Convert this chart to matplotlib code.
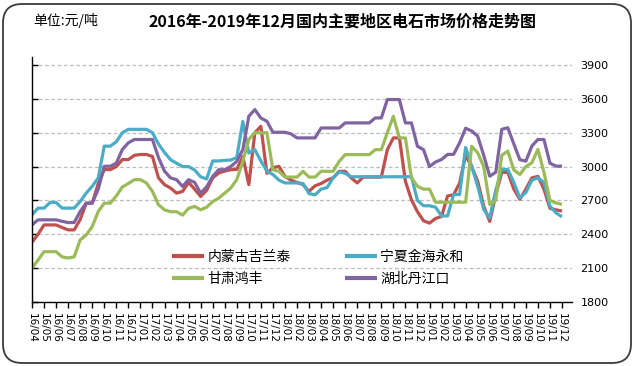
import numpy as np
import matplotlib
matplotlib.use("Agg")
import matplotlib.pyplot as plt
from matplotlib.patches import FancyBboxPatch
from matplotlib.transforms import ScaledTranslation

plt.rcParams['font.family'] = ['Noto Sans CJK SC', 'DejaVu Sans']

title = "2016年-2019年12月国内主要地区电石市场价格走势图"
unit_label = "单位:元/吨"

month_labels = [
    "16/04", "16/05", "16/06", "16/07", "16/08", "16/09", "16/10", "16/11", "16/12",
    "17/01", "17/02", "17/03", "17/04", "17/05", "17/06", "17/07", "17/08", "17/09",
    "17/10", "17/11", "17/12", "18/01", "18/02", "18/03", "18/04", "18/05", "18/06",
    "18/07", "18/08", "18/09", "18/10", "18/11", "18/12", "19/01", "19/02", "19/03",
    "19/04", "19/05", "19/06", "19/07", "19/08", "19/09", "19/10", "19/11", "19/12",
]

series_names = ["内蒙古吉兰泰", "宁夏金海永和", "甘肃鸿丰", "湖北丹江口"]

# half-monthly readings, starting 2016/04
neimenggu = [
    2330, 2400, 2483, 2483, 2483, 2460, 2439, 2439, 2530, 2676,
    2676, 2850, 2973, 2973, 3000, 3062, 3062, 3100, 3107, 3107,
    3090, 2900, 2840, 2810, 2765, 2780, 2860, 2800, 2735, 2790,
    2900, 2943, 2960, 2972, 2975, 3090, 2840, 3300, 3357, 2940,
    2990, 3002, 2913, 2880, 2860, 2840, 2780, 2830, 2850, 2880,
    2900, 2958, 2958, 2900, 2855, 2907, 2907, 2907, 2907, 3150,
    3254, 3254, 2870, 2706, 2600, 2520, 2499, 2540, 2558, 2740,
    2750, 2854, 3100, 3000, 2870, 2650, 2514, 2750, 2949, 2949,
    2800, 2710, 2800, 2900, 2913, 2800, 2630, 2617, 2606,
]
ningxia = [
    2572, 2632, 2632, 2682, 2682, 2632, 2632, 2632, 2690, 2765,
    2825, 2900, 3181, 3181, 3220, 3300, 3330, 3330, 3330, 3330,
    3300, 3200, 3125, 3061, 3030, 3000, 3000, 2970, 2910, 2890,
    3050, 3050, 3055, 3058, 3080, 3400, 3120, 3150, 3050, 2960,
    2930, 2880, 2855, 2855, 2855, 2850, 2760, 2750, 2800, 2814,
    2900, 2953, 2940, 2910, 2910, 2910, 2910, 2910, 2910, 2910,
    2910, 2910, 2910, 2910, 2700, 2653, 2653, 2640, 2563, 2563,
    2752, 2752, 3170, 3004, 2826, 2620, 2545, 2790, 2974, 2974,
    2860, 2723, 2770, 2880, 2900, 2860, 2650, 2590, 2555,
]
gansu = [
    2100, 2171, 2246, 2246, 2246, 2200, 2190, 2200, 2350, 2394,
    2468, 2602, 2676, 2676, 2740, 2819, 2850, 2884, 2884, 2855,
    2780, 2662, 2617, 2600, 2600, 2570, 2630, 2647, 2617, 2640,
    2690, 2720, 2765, 2810, 2884, 3046, 3240, 3300, 3300, 3300,
    2972, 2958, 2907, 2907, 2907, 2958, 2907, 2907, 2958, 2958,
    2958, 3046, 3106, 3106, 3106, 3106, 3106, 3150, 3150, 3300,
    3446, 3254, 3254, 2900, 2825, 2800, 2800, 2684, 2684, 2684,
    2684, 2684, 2684, 3180, 3122, 3000, 2664, 2700, 3100, 3137,
    2970, 2930, 3000, 3034, 3152, 2950, 2700, 2678, 2665,
]
hubei = [
    2483, 2528, 2528, 2528, 2528, 2515, 2504, 2504, 2602, 2676,
    2676, 2800, 3003, 3003, 3030, 3151, 3211, 3240, 3240, 3240,
    3240, 3080, 2960, 2900, 2884, 2824, 2884, 2860, 2765, 2820,
    2913, 2972, 2972, 3000, 3046, 3150, 3446, 3505, 3430, 3402,
    3304, 3304, 3304, 3290, 3254, 3254, 3254, 3254, 3342, 3342,
    3342, 3342, 3387, 3387, 3387, 3387, 3387, 3431, 3431, 3594,
    3594, 3594, 3387, 3387, 3180, 3150, 3000, 3040, 3063, 3108,
    3108, 3211, 3340, 3315, 3270, 3100, 2915, 2950, 3330, 3344,
    3200, 3061, 3048, 3182, 3240, 3240, 3030, 3004, 3004,
]

colors = ["#C0504D", "#4BACC6", "#9BBB59", "#8064A2"]
y_ticks = [1800, 2100, 2400, 2700, 3000, 3300, 3600, 3900]

W, H = 635, 366
fig = plt.figure(figsize=(W / 100, H / 100), dpi=100)
fig.patch.set_facecolor("white")

# rounded chart border
border = FancyBboxPatch((3 / W, 3 / H), (W - 7) / W, (H - 7) / H,
                        boxstyle="round,pad=0,rounding_size=0.03",
                        transform=fig.transFigure, facecolor="none",
                        edgecolor="#3a3a3a", linewidth=1.3, mutation_aspect=W / H)
fig.patches.append(border)

ax = fig.add_axes([32 / W, (H - 302) / H, 540 / W, 245 / H])
x = np.arange(len(neimenggu)) * 0.5

for name, vals, c in zip(series_names, [neimenggu, ningxia, gansu, hubei], colors):
    ax.plot(x, vals, color=c, lw=2.3, label=name, solid_joinstyle="round",
            solid_capstyle="butt")

ax.set_xlim(0, 44.83)
ax.set_ylim(1800, 3971)
ax.set_yticks(y_ticks)
ax.set_yticklabels([str(v) for v in y_ticks], fontsize=8, family="DejaVu Sans")
ax.set_xticks(np.arange(len(month_labels)))
ax.set_xticklabels(month_labels, rotation=270, fontsize=7.5, family="DejaVu Sans",
                   va="top", ha="center")
offset = ScaledTranslation(-3 / 100, 0, fig.dpi_scale_trans)
for lab in ax.get_xticklabels():
    lab.set_transform(lab.get_transform() + offset)

for v in y_ticks[1:]:
    ax.axhline(v, color="#bdbdbd", lw=0.9, ls=(0, (3, 2)), zorder=0)

for s in ["top", "right"]:
    ax.spines[s].set_visible(False)
ax.spines["left"].set_color("black")
ax.spines["bottom"].set_color("black")
ax.spines["left"].set_linewidth(1.0)
ax.spines["bottom"].set_linewidth(1.0)

ax.tick_params(axis="y", left=True, right=False, labelleft=False, labelright=True,
               direction="in", length=4, pad=6, width=1.0)
ax.tick_params(axis="x", direction="out", length=4, pad=4, width=1.0)

handles, labels = ax.get_legend_handles_labels()
order = [0, 2, 1, 3]
leg = fig.legend([handles[i] for i in order], [labels[i] for i in order],
                 ncol=2, frameon=False, fontsize=10,
                 loc="upper left", bbox_to_anchor=(172 / W, 1 - 250 / H),
                 borderpad=0, borderaxespad=0, handlelength=2.3, handletextpad=0.25,
                 columnspacing=3.9, labelspacing=0.6)
for lh in leg.get_lines():
    lh.set_linewidth(3)

fig.text(33 / W, 1 - 21 / H, unit_label, fontsize=10, va="center", ha="left")
fig.text(343 / W, 1 - 22 / H, title, fontsize=11.5, fontweight="bold",
         va="center", ha="center")

fig.savefig("out.png", dpi=100, facecolor="white")
